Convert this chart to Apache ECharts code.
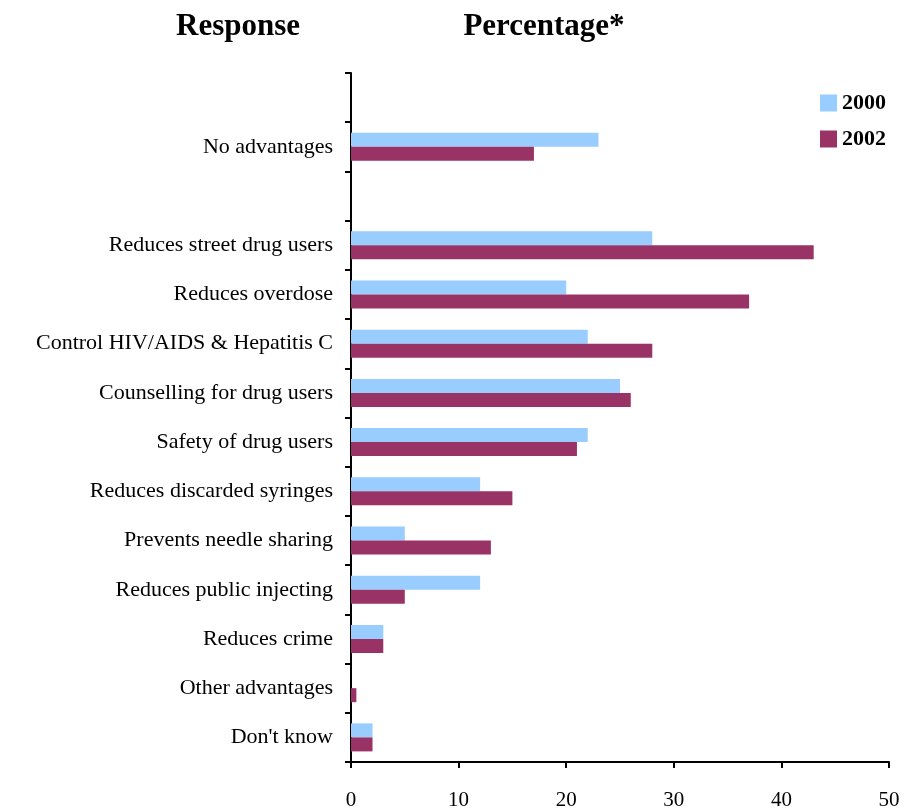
<!DOCTYPE html>
<html>
<head>
<meta charset="utf-8">
<script src="https://cdn.jsdelivr.net/npm/echarts@6/dist/echarts.min.js"></script>
<style>html,body{margin:0;padding:0;background:#fff;}#chart{width:904px;height:811px;}</style>
</head>
<body>
<div id="chart"></div>
<script>
const categories = ["", "No advantages", " ", "Reduces street drug users", "Reduces overdose", "Control HIV/AIDS & Hepatitis C", "Counselling for drug users", "Safety of drug users", "Reduces discarded syringes", "Prevents needle sharing", "Reduces public injecting", "Reduces crime", "Other advantages", "Don't know"];
const values2000 = [null, 23, null, 28, 20, 22, 25, 22, 12, 5, 12, 3, 0, 2];
const values2002 = [null, 17, null, 43, 37, 28, 26, 21, 15, 13, 5, 3, 0.5, 2];
const xTicks = [0, 10, 20, 30, 40, 50];

const font = "'Liberation Serif', 'DejaVu Serif', serif";
const chart = echarts.init(document.getElementById('chart'));
chart.setOption({
  animation: false,
  backgroundColor: '#fff',
  textStyle: { fontFamily: font },
  title: [
    { text: 'Response', left: 233, top: 6, textAlign: 'center', textStyle: { fontFamily: font, fontSize: 31, fontWeight: 'bold', color: '#000' } },
    { text: 'Percentage*', left: 539, top: 6, textAlign: 'center', textStyle: { fontFamily: font, fontSize: 31, fontWeight: 'bold', color: '#000' } }
  ],
  legend: {
    orient: 'vertical', left: 815, top: 87, itemWidth: 17, itemHeight: 17, itemGap: 14,
    icon: 'rect',
    textStyle: { fontFamily: font, fontSize: 22, fontWeight: 'bold', color: '#000', padding: [2, 0, 0, 0] },
    data: ['2000', '2002']
  },
  grid: { left: 351, right: 15, top: 73, bottom: 49, containLabel: false },
  xAxis: {
    type: 'value', min: 0, max: 50, interval: 10,
    axisLine: { show: true, lineStyle: { color: '#000', width: 2 } },
    axisTick: { show: true, length: 6, lineStyle: { color: '#000', width: 2 } },
    axisLabel: { margin: 28, fontFamily: font, fontSize: 21, color: '#000',
      formatter: v => xTicks.includes(v) ? String(v) : '' },
    splitLine: { show: false }
  },
  yAxis: {
    type: 'category', inverse: true, data: categories,
    axisLine: { show: true, lineStyle: { color: '#000', width: 2 } },
    axisTick: { show: true, length: 6, alignWithLabel: false, interval: 0, lineStyle: { color: '#000', width: 2 } },
    axisLabel: { margin: 18, interval: 0, fontFamily: font, fontSize: 22, color: '#000', padding: [4, 0, 0, 0] }
  },
  series: [
    { name: '2000', type: 'bar', data: values2000, itemStyle: { color: '#99CCFF' }, barWidth: 14, barGap: '0%' },
    { name: '2002', type: 'bar', data: values2002, itemStyle: { color: '#993366' }, barWidth: 14, barGap: '0%' }
  ]
});
</script>
</body>
</html>
